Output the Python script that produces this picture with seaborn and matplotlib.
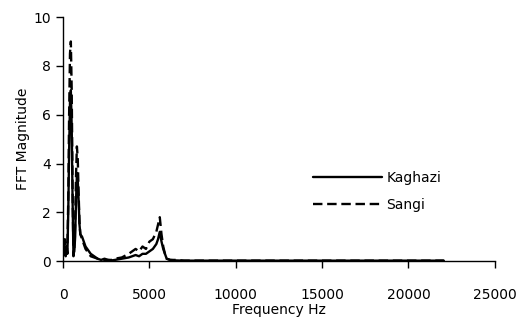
import pandas as pd
import seaborn as sns
import matplotlib.pyplot as plt

freq = [0, 50, 100, 150, 200, 250, 300, 350, 400, 450,
        500, 550, 600, 650, 700, 750, 800, 850, 900, 950,
        1000, 1100, 1200, 1300, 1400, 1500, 1600, 1800, 2000, 2200,
        2400, 2600, 2800, 3000, 3400, 3800, 4000, 4200, 4400, 4600,
        4800, 5000, 5200, 5400, 5500, 5600, 5700, 5800, 5900, 6000,
        6200, 6500, 7000, 8000, 9000, 10000, 12000, 15000, 18000, 20000,
        22050]

kaghazi = [0.3, 0.8, 0.5, 0.2, 0.6, 0.3, 2.0, 4.5, 6.5, 7.0,
           5.5, 2.5, 0.3, 0.4, 1.0, 2.5, 3.5, 3.3, 2.5, 1.5,
           1.1, 1.0, 0.8, 0.6, 0.5, 0.4, 0.3, 0.2, 0.1, 0.05,
           0.1, 0.05, 0.03, 0.05, 0.1, 0.15, 0.2, 0.25, 0.2, 0.3,
           0.3, 0.4, 0.5, 0.7, 0.9, 1.2, 0.8, 0.5, 0.3, 0.1,
           0.05, 0.03, 0.02, 0.02, 0.02, 0.02, 0.02, 0.02, 0.02, 0.02,
           0.02]

sangi = [0.2, 0.6, 0.9, 0.5, 0.3, 0.6, 2.5, 6.0, 8.5, 9.0,
         7.0, 3.0, 0.2, 0.5, 1.5, 3.5, 4.7, 4.2, 2.8, 1.6,
         1.1, 0.9, 0.7, 0.5, 0.4, 0.3, 0.2, 0.15, 0.1, 0.1,
         0.05, 0.05, 0.05, 0.1, 0.15, 0.3, 0.4, 0.5, 0.4, 0.6,
         0.5, 0.8, 0.9, 1.2, 1.5, 1.8, 1.1, 0.6, 0.3, 0.1,
         0.05, 0.05, 0.02, 0.02, 0.02, 0.02, 0.02, 0.02, 0.02, 0.02,
         0.02]

df = pd.DataFrame({"freq": freq, "Kaghazi": kaghazi, "Sangi": sangi})
long_df = df.melt("freq", var_name="sample", value_name="mag")

sns.set_style("ticks")
plt.rcParams["font.family"] = ["DejaVu Sans"]
plt.rcParams.update({"text.color": "black", "axes.labelcolor": "black",
                     "xtick.color": "black", "ytick.color": "black",
                     "axes.edgecolor": "black"})

fig = plt.figure(figsize=(5.17, 3.22), dpi=100)
ax = fig.add_axes([0.122, 0.189, 0.835, 0.758])

sns.lineplot(data=long_df, x="freq", y="mag", hue="sample", style="sample",
             palette={"Kaghazi": "black", "Sangi": "black"},
             dashes={"Kaghazi": "", "Sangi": (4, 2)},
             linewidth=1.7, ax=ax)

ax.set_xlim(0, 25000)
ax.set_ylim(0, 10)
ax.set_xticks([0, 5000, 10000, 15000, 20000, 25000])
ax.set_yticks([0, 2, 4, 6, 8, 10])
ax.set_xlabel("Frequency Hz", fontsize=10, labelpad=1)
ax.set_ylabel("FFT Magnitude", fontsize=10, labelpad=2)
ax.tick_params(axis="x", labelsize=10, length=5, pad=14, width=1)
ax.tick_params(axis="y", labelsize=10, length=5, pad=4, width=1)
sns.despine(ax=ax)
for s in ["left", "bottom"]:
    ax.spines[s].set_linewidth(1)

ax.legend(loc="center left", bbox_to_anchor=(0.55, 0.285), frameon=False,
          handlelength=5, labelspacing=0.9, fontsize=10, handletextpad=0.3)

fig.savefig("out.png", dpi=100)
